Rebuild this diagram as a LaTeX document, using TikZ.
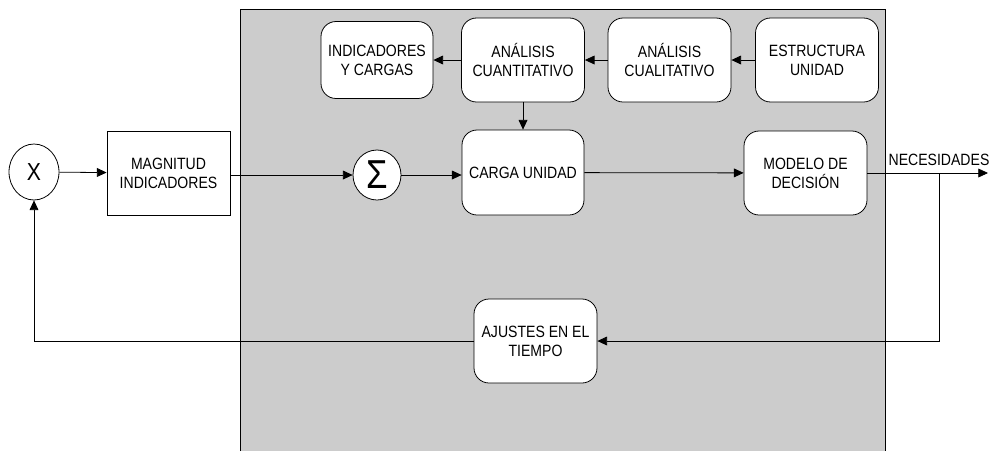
\documentclass[tikz,border=0pt]{standalone}
\usepackage{fontspec}
\setmainfont[FakeStretch=0.86]{Liberation Sans}
\usetikzlibrary{arrows.meta, shapes.geometric, positioning}
\tikzset{blk/.style={draw, fill=white, rounded corners=0.3cm, align=center,
            minimum width=2.46cm, minimum height=1.68cm}}
\tikzset{sq/.style={draw, fill=white, align=center,
            minimum width=2.46cm, minimum height=1.68cm}}
\tikzset{op/.style={draw, fill=white, ellipse, inner sep=0pt}}
\tikzset{flw/.style={-{Triangle[length=5.5pt, width=5pt]}}}

\begin{document}
\begin{tikzpicture}[x=0.02cm, y=-0.02cm, line width=0.45pt,
        font=\fontsize{9.3}{10.8}\selectfont]

    \useasboundingbox (0,0) rectangle (990,451);

    % gray area
    \filldraw[fill=gray!40] (240,451) |- (885,9) -- (885,451);

    % left side
    \node(mult)[op, minimum width=1.0cm, minimum height=1.12cm,
        font=\fontsize{14}{14}\selectfont] at (34,172){X};
    \node(magn)[sq] at (168.5,173){MAGNITUD\\INDICADORES};

    % top row
    \node(indic)[blk, minimum width=2.24cm, minimum height=1.54cm] at (377,60){INDICADORES\\Y CARGAS};
    \node(cuanti)[blk] at (523,60){ANÁLISIS\\CUANTITATIVO};
    \node(cuali)[blk] at (669.5,60){ANÁLISIS\\CUALITATIVO};
    \node(estr)[blk] at (817,60){ESTRUCTURA\\UNIDAD};

    % middle row
    \node(suma)[op, minimum width=0.96cm, minimum height=1.0cm,
        font=\fontsize{23}{23}\selectfont] at (377,175){Σ};
    \node(carga)[blk, minimum width=2.44cm, minimum height=1.7cm] at (523,172.5){CARGA UNIDAD};
    \node(model)[blk] at (805.5,173){MODELO DE\\DECISIÓN};

    % feedback
    \node(ajust)[blk] at (535.5,341){AJUSTES EN EL\\TIEMPO};

    \coordinate(out) at (988,173);
    \coordinate(rama) at (939,173);

    % connectors
    \draw[flw] (mult) -- (magn);
    \draw[flw] (magn.east |- suma) -- (suma);
    \draw[flw] (suma) -- (carga.west |- suma);
    \draw[flw] (carga) -- (model);
    \draw[flw] (cuanti) -- (carga);
    \draw[flw] (estr) -- (cuali);
    \draw[flw] (cuali) -- (cuanti);
    \draw[flw] (cuanti) -- (indic);
    \draw[flw] (model) -- (out);
    \node(nec)[above=0.02cm of rama]{NECESIDADES};
    \draw[flw] (rama) |- (ajust);
    \draw[flw] (ajust) -| (mult);

\end{tikzpicture}
\end{document}
